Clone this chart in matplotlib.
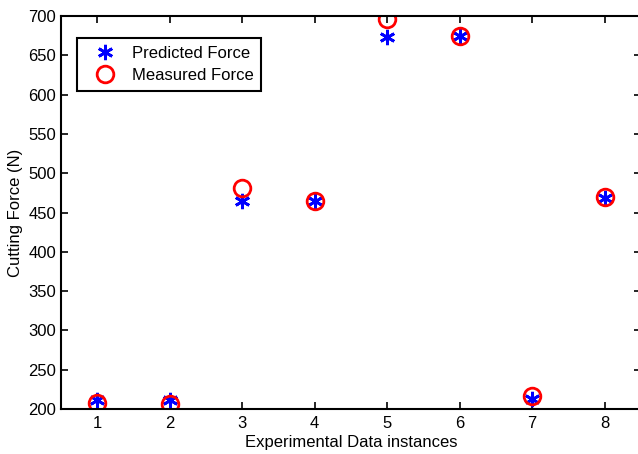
import numpy as np
import matplotlib.pyplot as plt

plt.rcParams['font.family'] = ['Liberation Sans', 'DejaVu Sans']

instances = [1, 2, 3, 4, 5, 6, 7, 8]
predicted = [211, 211, 465, 465, 673, 674, 213, 468]
measured = [208, 206, 481, 464, 696, 674, 217, 470]

fig = plt.figure(figsize=(6.38, 4.54), dpi=100)
ax = fig.add_axes([61/638, 45/454, 580/638, 393/454])

ax.plot(instances, predicted, linestyle='none', marker=(6, 2, 0), color='b',
        markersize=11, markeredgewidth=2, label='Predicted Force')
ax.plot(instances, measured, linestyle='none', marker='o', markerfacecolor='none',
        markeredgecolor='r', markersize=12, markeredgewidth=2, label='Measured Force')

ax.set_xlim(0.5, 8.5)
ax.set_ylim(200, 700)
ax.set_xticks(instances)
ax.set_yticks(np.arange(200, 701, 50))
ax.tick_params(direction='in', top=True, right=True, labelsize=12, length=5, width=1.2)
ax.tick_params(axis='x', pad=5)
for s in ax.spines.values():
    s.set_linewidth(1.5)

ax.set_xlabel('Experimental Data instances', fontsize=12, labelpad=3)
ax.set_ylabel('Cutting Force (N)', fontsize=12, labelpad=4)

leg = ax.legend(loc='upper left', bbox_to_anchor=(16/580, 1 - 22/393), borderaxespad=0,
                fontsize=12, fancybox=False, edgecolor='k', framealpha=1,
                handlelength=2.4, handletextpad=0.45, borderpad=0.45, labelspacing=0.45)
leg.get_frame().set_linewidth(1.5)

plt.savefig('out.png', dpi=100)
